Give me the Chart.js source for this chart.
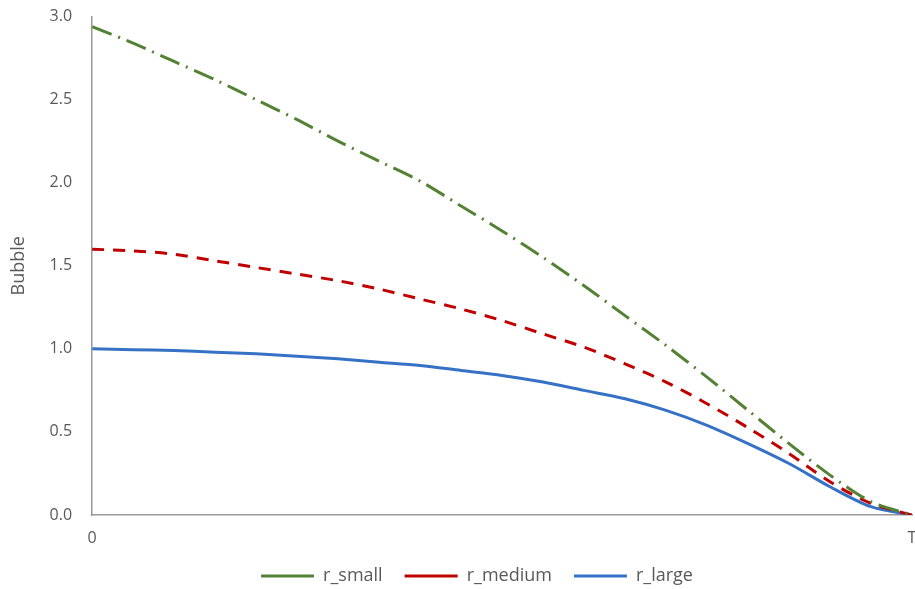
<!DOCTYPE html>
<html>
<head>
<meta charset="utf-8">
<script src="https://cdn.jsdelivr.net/npm/chart.js@4.4.0/dist/chart.umd.min.js"></script>
<style>
  html, body { margin: 0; padding: 0; background: #fff; overflow: hidden; }
  #wrap { position: relative; width: 958px; height: 602px; margin-top: -13px; }
</style>
</head>
<body>
<div id="wrap"><canvas id="c"></canvas></div>
<script>
const tValues = [0, 0.05, 0.1, 0.15, 0.2, 0.25, 0.3, 0.35, 0.4, 0.45, 0.5, 0.55, 0.6, 0.65, 0.7, 0.75, 0.8, 0.85, 0.9, 0.95, 1.0];
const rSmall  = [2.94, 2.84, 2.73, 2.62, 2.50, 2.38, 2.25, 2.13, 2.01, 1.86, 1.71, 1.55, 1.38, 1.20, 1.02, 0.83, 0.63, 0.43, 0.24, 0.08, 0.0];
const rMedium = [1.60, 1.59, 1.57, 1.53, 1.49, 1.45, 1.41, 1.36, 1.30, 1.24, 1.17, 1.09, 1.01, 0.91, 0.80, 0.67, 0.525, 0.37, 0.20, 0.07, 0.0];
const rLarge  = [1.00, 0.995, 0.99, 0.98, 0.97, 0.955, 0.94, 0.92, 0.90, 0.87, 0.84, 0.80, 0.75, 0.70, 0.63, 0.54, 0.43, 0.31, 0.17, 0.05, 0.0];
const seriesNames = ['r_small', 'r_medium', 'r_large'];
const xTickLabels = ['0', 'T'];
const yTicks = [0, 0.5, 1.0, 1.5, 2.0, 2.5, 3.0];
const yTitle = 'Bubble';

const toPts = arr => tValues.map((t, i) => ({ x: t, y: arr[i] }));
const textColor = '#595959';
const fontFamily = "'Open Sans', 'Noto Sans', 'Liberation Sans', sans-serif";

const legendShift = {
  id: 'legendShift',
  afterLayout(chart) {
    if (chart.legend) { chart.legend.left += 19; chart.legend.right += 19; }
  }
};

new Chart(document.getElementById('c'), {
  type: 'line',
  plugins: [legendShift],
  data: {
    datasets: [
      { label: seriesNames[0], data: toPts(rSmall), borderColor: '#548235', backgroundColor: '#548235',
        borderWidth: 3, borderDash: [21, 7, 2, 7], pointRadius: 0, tension: 0.3 },
      { label: seriesNames[1], data: toPts(rMedium), borderColor: '#C00000', backgroundColor: '#C00000',
        borderWidth: 3, borderDash: [12, 9], pointRadius: 0, tension: 0.3 },
      { label: seriesNames[2], data: toPts(rLarge), borderColor: '#3572C6', backgroundColor: '#3572C6',
        borderWidth: 3, pointRadius: 0, tension: 0.3 }
    ]
  },
  options: {
    responsive: true,
    maintainAspectRatio: false,
    animation: false,
    layout: { padding: { top: -9, right: 46, left: 4, bottom: -6 } },
    plugins: {
      tooltip: { enabled: false },
      legend: {
        position: 'bottom',
        labels: {
          usePointStyle: true,
          pointStyle: 'line',
          pointStyleWidth: 53,
          padding: 22,
          color: textColor,
          font: { family: fontFamily, size: 18 }
        }
      }
    },
    scales: {
      x: {
        type: 'linear',
        min: 0, max: 1,
        grid: { display: false, drawTicks: false },
        border: { display: true, color: '#999999', width: 1.5 },
        afterBuildTicks: axis => { axis.ticks = [{ value: 0 }, { value: 1 }]; },
        afterFit: axis => { axis.height = 30; },
        ticks: {
          color: textColor, padding: 14, maxRotation: 0,
          font: { family: fontFamily, size: 16 },
          callback: v => (v === 0 ? xTickLabels[0] : (v === 1 ? xTickLabels[1] : ''))
        }
      },
      y: {
        min: 0, max: 3,
        grid: { display: false, drawTicks: false },
        border: { display: true, color: '#999999', width: 1.5 },
        afterBuildTicks: axis => { axis.ticks = yTicks.map(v => ({ value: v })); },
        ticks: {
          color: textColor, padding: 20,
          font: { family: fontFamily, size: 16 },
          callback: v => Number(v).toFixed(1)
        },
        title: { display: true, text: yTitle, color: textColor, font: { family: fontFamily, size: 18 }, padding: { top: 4, bottom: 0 } }
      }
    }
  }
});
</script>
</body>
</html>
